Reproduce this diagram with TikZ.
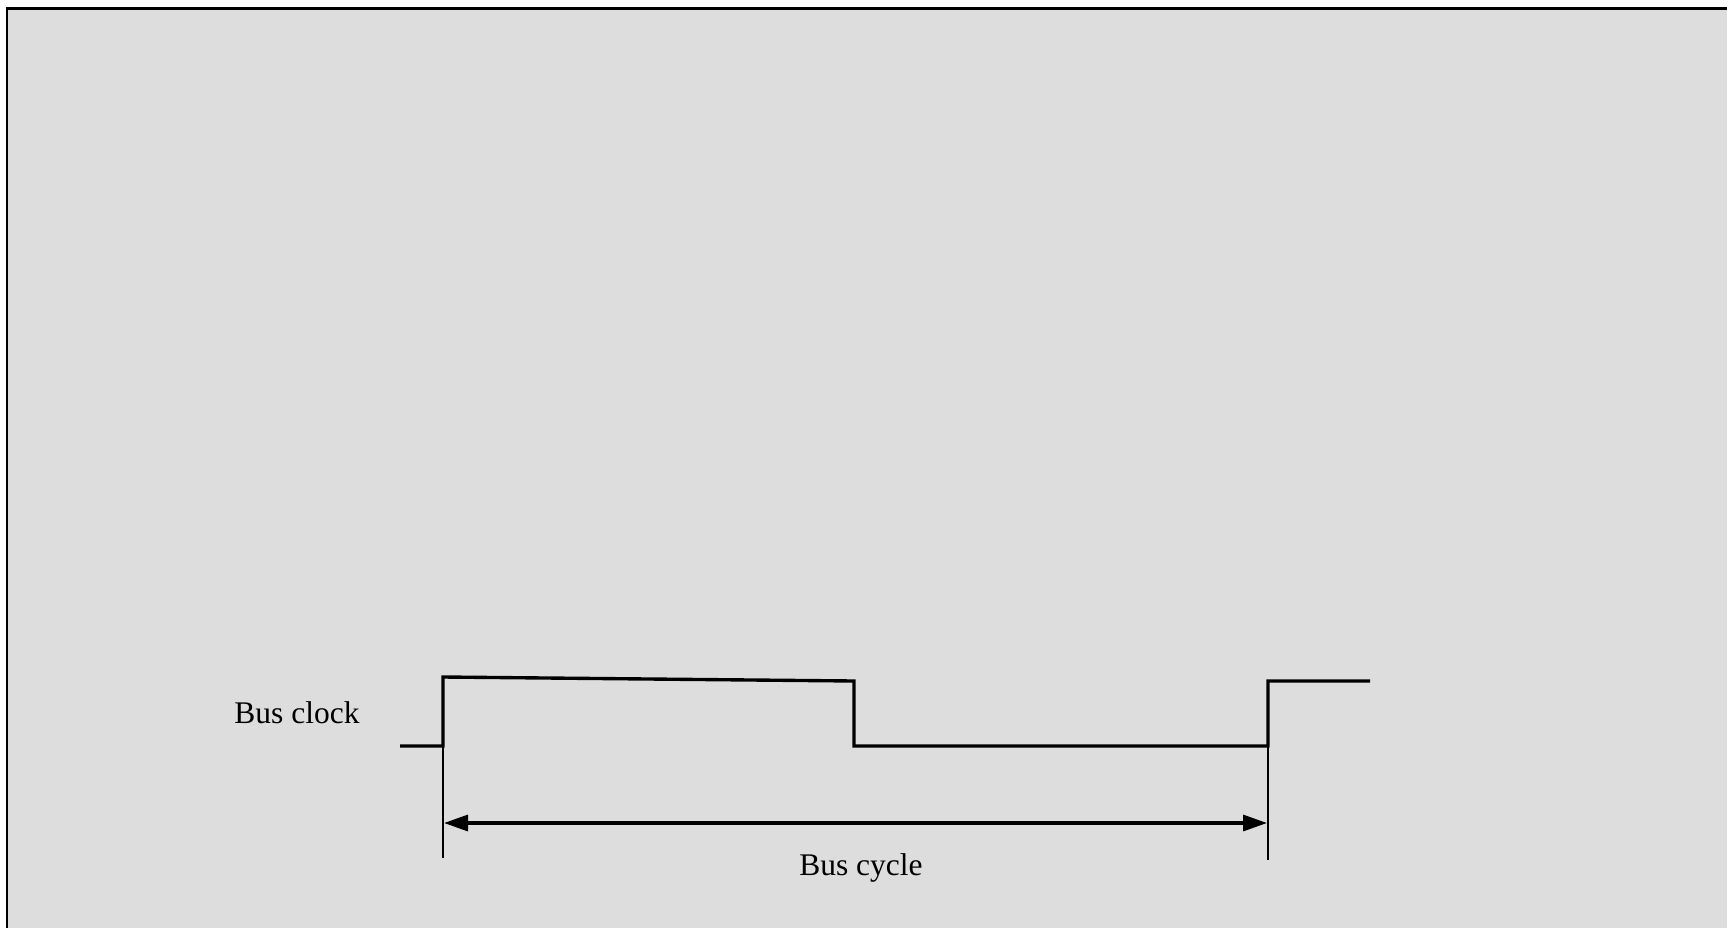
\documentclass[tikz,border=0pt]{standalone}
\usepackage{fontspec}
\setmainfont{Liberation Serif}
\usetikzlibrary{arrows.meta}
\begin{document}
\begin{tikzpicture}[x=0.4pt,y=-0.4pt,
  wave/.style={line width=1.35pt,line join=miter},
  marker/.style={line width=0.95pt},
  dim/.style={line width=1.3pt,{Triangle[length=9.6pt,width=6.4pt]}-{Triangle[length=9.6pt,width=6.4pt]}},
  lbl/.style={font=\fontsize{12.6pt}{15pt}\selectfont,inner sep=0pt,anchor=base}]
\useasboundingbox (0,0) rectangle (1727,927);
\clip (0,0) rectangle (1727,927);
\fill[white] (0,0) rectangle (1727,927);
\filldraw[fill={rgb,255:red,221;green,221;blue,221},draw=black,line width=1.1pt] (7,8.5) rectangle (1760,960);
% waveform points
\coordinate (w0) at (400,746);
\coordinate (w1) at (443,746);
\coordinate (w2) at (443,677);
\coordinate (w3) at (854,681);
\coordinate (w4) at (854,746);
\coordinate (w5) at (1268,746);
\coordinate (w6) at (1268,681);
\coordinate (w7) at (1370,681);
\draw[wave] (w0) -- (w1) -- (w2) -- (w3) -- (w4) -- (w5) -- (w6) -- (w7);
% markers
\coordinate (m1) at (443,858);
\coordinate (m2) at (1268,860);
\draw[marker] (w1) -- (m1);
\draw[marker] (w5) -- (m2);
% dimension arrow
\coordinate (a1) at (444,823);
\coordinate (a2) at (1267,823);
\draw[dim] (a1) -- (a2);
\node[lbl] (clk) at (297,723) {Bus clock};
\node[lbl] (cyc) at (861,875) {Bus cycle};
\end{tikzpicture}
\end{document}
